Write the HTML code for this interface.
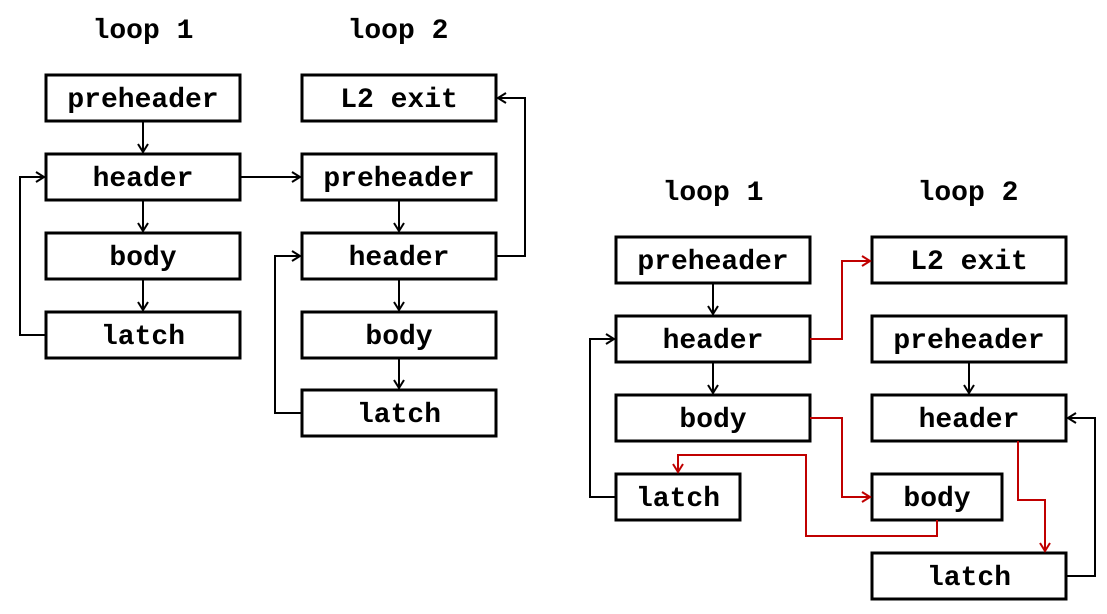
<!DOCTYPE html>
<html><head><style>html,body{margin:0;padding:0;background:#fff}</style></head><body>
<svg width="1107" height="609" viewBox="0 0 1107 609" xmlns="http://www.w3.org/2000/svg">
<defs>
<marker id="ab" markerWidth="12" markerHeight="12" refX="10" refY="6" orient="auto" markerUnits="userSpaceOnUse"><path d="M2,1 L10,6 L2,11" fill="none" stroke="#000" stroke-width="2"/></marker>
<marker id="ar" markerWidth="12" markerHeight="12" refX="10" refY="6" orient="auto" markerUnits="userSpaceOnUse"><path d="M2,1 L10,6 L2,11" fill="none" stroke="#c00000" stroke-width="2"/></marker>
</defs>
<g font-family="'Liberation Mono','Courier New',monospace" font-weight="bold" font-size="28" text-anchor="middle" fill="#000">
<text x="143" y="38">loop 1</text><text x="398" y="38">loop 2</text>
<text x="713" y="200">loop 1</text><text x="968" y="200">loop 2</text>
</g>
<g fill="#fff" stroke="#000" stroke-width="3">
<rect x="46" y="75" width="194" height="46"/>
<rect x="46" y="154" width="194" height="46"/>
<rect x="46" y="233" width="194" height="46"/>
<rect x="46" y="312" width="194" height="46"/>
<rect x="302" y="75" width="194" height="46"/>
<rect x="302" y="154" width="194" height="46"/>
<rect x="302" y="233" width="194" height="46"/>
<rect x="302" y="312" width="194" height="46"/>
<rect x="302" y="390" width="194" height="46"/>
<rect x="616" y="237" width="194" height="46"/>
<rect x="616" y="316" width="194" height="46"/>
<rect x="616" y="395" width="194" height="46"/>
<rect x="616" y="474" width="124" height="46"/>
<rect x="872" y="237" width="194" height="46"/>
<rect x="872" y="316" width="194" height="46"/>
<rect x="872" y="395" width="194" height="46"/>
<rect x="872" y="474" width="130" height="46"/>
<rect x="872" y="553" width="194" height="46"/>
</g>
<g font-family="'Liberation Mono','Courier New',monospace" font-weight="bold" font-size="28" text-anchor="middle" fill="#000">
<text x="143" y="107">preheader</text><text x="143" y="186">header</text><text x="143" y="265">body</text><text x="143" y="344">latch</text>
<text x="399" y="107">L2 exit</text><text x="399" y="186">preheader</text><text x="399" y="265">header</text><text x="399" y="344">body</text><text x="399" y="422">latch</text>
<text x="713" y="269">preheader</text><text x="713" y="348">header</text><text x="713" y="427">body</text><text x="678" y="506">latch</text>
<text x="969" y="269">L2 exit</text><text x="969" y="348">preheader</text><text x="969" y="427">header</text><text x="937" y="506">body</text><text x="969" y="585">latch</text>
</g>
<g fill="none" stroke="#000" stroke-width="2">
<path d="M143,121 V152" marker-end="url(#ab)"/>
<path d="M143,200 V231" marker-end="url(#ab)"/>
<path d="M143,279 V310" marker-end="url(#ab)"/>
<path d="M46,335 H20 V177 H44" marker-end="url(#ab)"/>
<path d="M240,177 H300" marker-end="url(#ab)"/>
<path d="M399,200 V231" marker-end="url(#ab)"/>
<path d="M399,279 V310" marker-end="url(#ab)"/>
<path d="M399,358 V388" marker-end="url(#ab)"/>
<path d="M302,413 H275 V256 H300" marker-end="url(#ab)"/>
<path d="M496,256 H525 V98 H498" marker-end="url(#ab)"/>
<path d="M713,283 V314" marker-end="url(#ab)"/>
<path d="M713,362 V393" marker-end="url(#ab)"/>
<path d="M616,497 H590 V339 H614" marker-end="url(#ab)"/>
<path d="M969,362 V393" marker-end="url(#ab)"/>
<path d="M1066,576 H1095 V418 H1068" marker-end="url(#ab)"/>
</g>
<g fill="none" stroke="#c00000" stroke-width="2">
<path d="M810,339 H842 V261 H870" marker-end="url(#ar)"/>
<path d="M810,418 H842 V497 H870" marker-end="url(#ar)"/>
<path d="M937,520 V536 H806 V455 H678 V472" marker-end="url(#ar)"/>
<path d="M1018,441 V500 H1045 V551" marker-end="url(#ar)"/>
</g>
</svg>
</body></html>
